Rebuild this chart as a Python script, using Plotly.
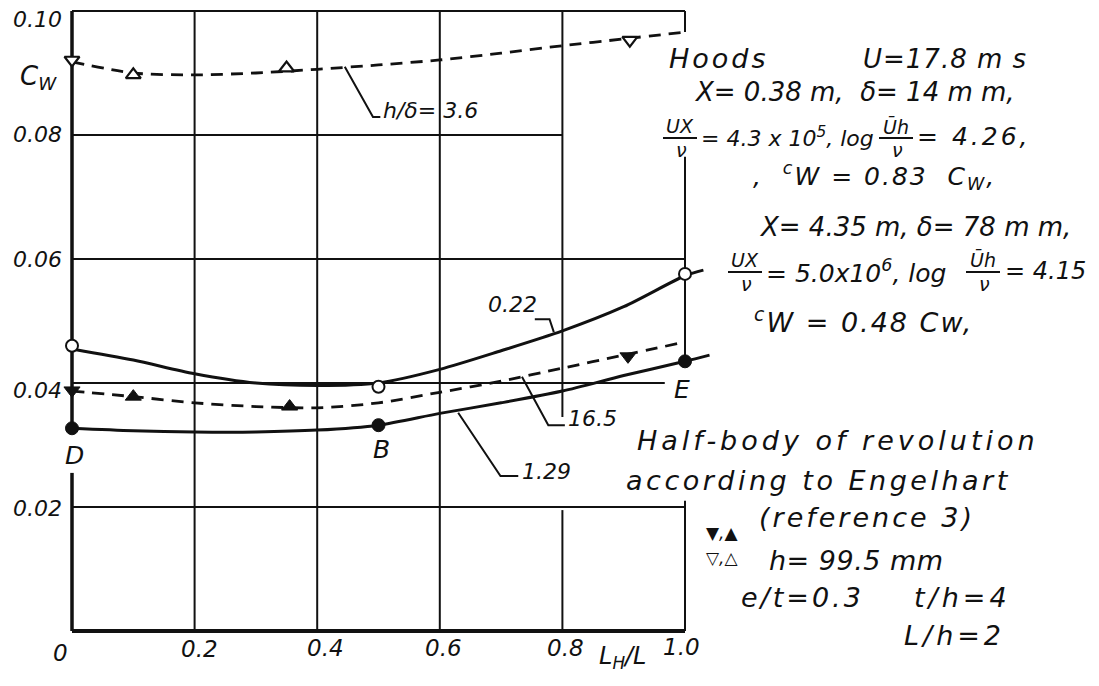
import plotly.graph_objects as go

# ---------------- data ----------------
# curve h/delta = 3.6 (dashed, open triangles)
x_h36 = [0.0, 0.1, 0.2, 0.3, 0.4, 0.5, 0.6, 0.7, 0.8, 0.9, 1.0]
cw_h36 = [0.0918, 0.0900, 0.0897, 0.0900, 0.0906, 0.0913, 0.0921, 0.0932, 0.0944, 0.0955, 0.0966]

# curve 0.22 (solid, open circles)
x_022 = [0.0, 0.1, 0.2, 0.3, 0.4, 0.5, 0.6, 0.7, 0.8, 0.9, 1.0, 1.03]
cw_022 = [0.0455, 0.0437, 0.0415, 0.0400, 0.0396, 0.0400, 0.0422, 0.0452, 0.0484, 0.0523, 0.0573, 0.0582]

# curve 16.5 (dashed, filled triangles)
x_165 = [0.0, 0.1, 0.2, 0.3, 0.4, 0.5, 0.6, 0.7, 0.8, 0.9, 0.99]
cw_165 = [0.0387, 0.0378, 0.0368, 0.0362, 0.0360, 0.0368, 0.0385, 0.0403, 0.0424, 0.0445, 0.0464]

# curve 1.29 (solid, filled circles)
x_129 = [0.0, 0.1, 0.2, 0.3, 0.4, 0.5, 0.6, 0.7, 0.8, 0.9, 1.0, 1.04]
cw_129 = [0.0327, 0.0323, 0.0321, 0.0321, 0.0324, 0.0332, 0.0351, 0.0368, 0.0387, 0.0412, 0.0435, 0.0445]

# measured points
open_down_x = [0.0, 0.91]
open_down_y = [0.0921, 0.0953]
open_up_x = [0.10, 0.35]
open_up_y = [0.0897, 0.0908]
filled_down_x = [0.0, 0.907]
filled_down_y = [0.0388, 0.0443]
filled_up_x = [0.10, 0.355]
filled_up_y = [0.0378, 0.0362]
open_circle_x = [0.0, 0.5, 1.0]
open_circle_y = [0.0460, 0.0394, 0.0576]
filled_circle_x = [0.0, 0.5, 1.0]
filled_circle_y = [0.0327, 0.0332, 0.0435]
point_names = ["D", "B", "E"]

# axes ticks
x_tick_vals = [0.0, 0.2, 0.4, 0.6, 0.8, 1.0]
x_tick_labels = ["0", "0.2", "0.4", "0.6", "0.8", "1.0"]
y_tick_vals = [0.02, 0.04, 0.06, 0.08, 0.10]
y_tick_labels = ["0.02", "0.04", "0.06", "0.08", "0.10"]

curve_labels = ["h/δ= 3.6", "0.22", "16.5", "1.29"]

# ---------------- layout geometry (page pixels) ----------------
W, H = 1099, 686
OFF = 8                                    # page body margin
FW, FH = W - 2 * OFF, H - 2 * OFF          # figure size
PL, PR, PT, PB = 54, 760, 10, 645          # plot area in page pixels
X0PX, XSCALE = 72, 613                     # page pixel of x=0, pixels per unit
Y0PX, YSCALE = 631, 6200                   # page pixel of y=0, pixels per unit
xr = [(PL - X0PX) / XSCALE, (PR - X0PX) / XSCALE]
yr = [(Y0PX - PB) / YSCALE, (Y0PX - PT) / YSCALE]

INK = "#111111"
FONT = "DejaVu Sans"


def fnt(size):
    return dict(family=FONT, size=size, color=INK, style="italic")


def px2paper(px, py):
    return (px - PL) / (PR - PL), (PB - py) / (PB - PT)


fig = go.Figure()

# curves
fig.add_trace(go.Scatter(x=x_h36, y=cw_h36, mode="lines", line=dict(color=INK, width=2.8, dash="12px,8px", shape="spline", smoothing=0.8), showlegend=False))
fig.add_trace(go.Scatter(x=x_022, y=cw_022, mode="lines", line=dict(color=INK, width=3, shape="spline", smoothing=0.8), showlegend=False))
fig.add_trace(go.Scatter(x=x_165, y=cw_165, mode="lines", line=dict(color=INK, width=2.8, dash="12px,8px", shape="spline", smoothing=0.8), showlegend=False))
fig.add_trace(go.Scatter(x=x_129, y=cw_129, mode="lines", line=dict(color=INK, width=3, shape="spline", smoothing=0.8), showlegend=False))

# markers
mk = dict(mode="markers", showlegend=False, cliponaxis=False)
fig.add_trace(go.Scatter(x=open_down_x, y=open_down_y, marker=dict(symbol="triangle-down", size=13, color="white", line=dict(color=INK, width=2.2)), **mk))
fig.add_trace(go.Scatter(x=open_up_x, y=open_up_y, marker=dict(symbol="triangle-up", size=13, color="white", line=dict(color=INK, width=2.2)), **mk))
fig.add_trace(go.Scatter(x=filled_down_x, y=filled_down_y, marker=dict(symbol="triangle-down", size=14, color=INK, line=dict(color=INK, width=1)), **mk))
fig.add_trace(go.Scatter(x=filled_up_x, y=filled_up_y, marker=dict(symbol="triangle-up", size=14, color=INK, line=dict(color=INK, width=1)), **mk))
fig.add_trace(go.Scatter(x=open_circle_x, y=open_circle_y, marker=dict(symbol="circle", size=12, color="white", line=dict(color=INK, width=2)), **mk))
fig.add_trace(go.Scatter(x=filled_circle_x, y=filled_circle_y, marker=dict(symbol="circle", size=13, color=INK, line=dict(color=INK, width=1)), **mk))

shapes = []


def seg(x0, y0, x1, y1, w=2.0):
    shapes.append(dict(type="line", xref="x", yref="y", x0=x0, y0=y0, x1=x1, y1=y1,
                       line=dict(color=INK, width=w), layer="below"))


# grid (hand drawn, with gaps where lettering sits)
seg(0.2, 0, 0.2, 0.10)
seg(0.4, 0, 0.4, 0.10)
seg(0.6, 0, 0.6, 0.10)
seg(0.8, 0.0345, 0.8, 0.10)
seg(0.8, 0, 0.8, 0.0195)
seg(1.0, 0.0966, 1.0, 0.10)
seg(1.0, 0.0435, 1.0, 0.0765)
seg(1.0, 0, 1.0, 0.0210)
seg(0, 0.10, 1.0, 0.10)
seg(0, 0.08, 0.8, 0.08)
seg(0, 0.06, 1.0, 0.06)
seg(0, 0.04, 0.967, 0.04)
seg(0, 0.02, 1.0, 0.02)
# axes
seg(0, 0.0327, 0, 0.10, 3.5)
seg(0, 0, 0, 0.0255, 3.5)
seg(0, 0, 1.0, 0, 4)

# leader lines for curve labels
leaders = [
    [(0.445, 0.0910), (0.491, 0.0829), (0.503, 0.0829)],
    [(0.786, 0.0482), (0.779, 0.0503), (0.755, 0.0503)],
    [(0.734, 0.0410), (0.777, 0.0332), (0.804, 0.0332)],
    [(0.630, 0.0352), (0.699, 0.0250), (0.728, 0.0250)],
]
for pts in leaders:
    path = "M " + " L ".join(f"{a},{b}" for a, b in pts)
    shapes.append(dict(type="path", xref="x", yref="y", path=path, line=dict(color=INK, width=2)))

annotations = []


def ann_px(px, py, text, size, anchor="left", ls=0):
    ax, ay = px2paper(px, py)
    if ls:
        text = f'<span style="letter-spacing:{ls}px">{text}</span>'
    annotations.append(dict(xref="paper", yref="paper", x=ax, y=ay, text=text, showarrow=False,
                            xanchor=anchor, yanchor="middle", font=fnt(size), borderpad=0))


def bar_px(xa, xb, py, w=2):
    a0, b0 = px2paper(xa, py)
    a1, _ = px2paper(xb, py)
    shapes.append(dict(type="line", xref="paper", yref="paper", x0=a0, y0=b0, x1=a1, y1=b0,
                       line=dict(color=INK, width=w)))


def frac_px(cx, cy, num, den, half=17, size=19):
    ann_px(cx, cy - 12, num, size, "center")
    bar_px(cx - half, cx + half, cy)
    ann_px(cx + 1, cy + 12, den, size, "center")


# curve labels
ann_px(X0PX + 0.506 * XSCALE, 110, curve_labels[0], 22)
ann_px(X0PX + 0.718 * XSCALE, 305, curve_labels[1], 22, "center")
ann_px(X0PX + 0.807 * XSCALE, 419, curve_labels[2], 22)
ann_px(X0PX + 0.733 * XSCALE, 471, curve_labels[3], 22)

# point letters
letter_px = [(74, 455), (381, 449), (682, 389)]
for name, (lx, ly) in zip(point_names, letter_px):
    ann_px(lx, ly, name, 25, "center")

# tick labels
x_tick_px = [60, 199, 325, 443, 565, 681]
x_tick_py = [653, 649, 648, 648, 648, 647]
for lab, px, py in zip(x_tick_labels, x_tick_px, x_tick_py):
    ann_px(px, py, lab, 23, "center")
y_tick_shift = [1, 7, 0, 0, 9]
for v, lab, s in zip(y_tick_vals, y_tick_labels, y_tick_shift):
    ann_px(63, Y0PX - v * YSCALE + s, lab, 22, "right")

# axis titles
ann_px(38, 77, "C<sub>W</sub>", 26, "center")
ann_px(622, 657, "L<sub>H</sub>/L", 24, "center")

# right-hand text block
ann_px(668, 58, "Hoods", 27, ls=3)
ann_px(862, 59, "U=17.8 m s", 26, ls=1)
ann_px(693, 92, "X= 0.38 m,  δ= 14 m m,", 26)
frac_px(680, 138, "UX", "ν")
ann_px(700, 137, "= 4.3 x 10<sup>5</sup>, log", 22)
frac_px(896, 138, "Ūh", "ν")
ann_px(916, 137, "= 4.26,", 25, ls=3)
ann_px(752, 176, ",  <sup>c</sup>W = 0.83  C<sub>W</sub>,", 25, ls=2)
ann_px(758, 227, "X= 4.35 m, δ= 78 m m,", 26)
frac_px(745, 272, "UX", "ν")
ann_px(765, 271, "= 5.0x10<sup>6</sup>, log", 25)
frac_px(983, 272, "Ūh", "ν")
ann_px(1004, 271, "= 4.15", 24)
ann_px(753, 320, "<sup>c</sup>W = 0.48 Cw,", 27, ls=2)

BS = 27
ann_px(636, 441, "Half-body of revolution", BS, ls=4)
ann_px(625, 480, "according to Engelhart", BS, ls=3.5)
ann_px(758, 517, "(reference 3)", BS, ls=3)
ann_px(705, 533, "▼,▲", 17)
ann_px(705, 558, "▽,△", 17)
ann_px(768, 560, "h= 99.5 mm", BS, ls=0.5)
ann_px(740, 597, "e/t=0.3", BS, ls=3)
ann_px(913, 597, "t/h=4", BS, ls=4)
ann_px(903, 635, "L/h=2", BS, ls=4)

fig.update_layout(
    width=FW, height=FH,
    margin=dict(l=PL - OFF, r=FW - (PR - OFF), t=PT - OFF, b=FH - (PB - OFF), pad=0),
    paper_bgcolor="white", plot_bgcolor="white",
    xaxis=dict(range=xr, visible=False, fixedrange=True),
    yaxis=dict(range=yr, visible=False, fixedrange=True),
    shapes=shapes, annotations=annotations,
    showlegend=False,
)

fig.write_html("out.html")
